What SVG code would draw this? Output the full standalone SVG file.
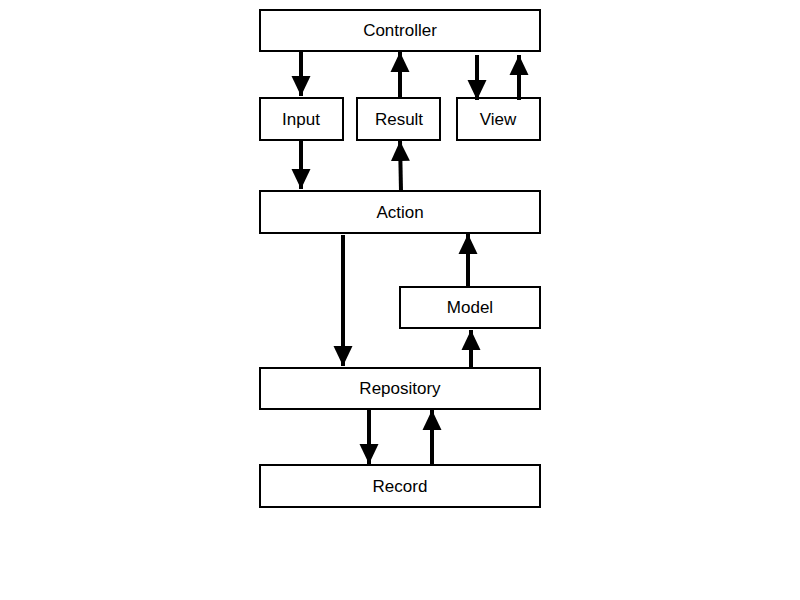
<svg xmlns="http://www.w3.org/2000/svg" width="800" height="600" viewBox="0 0 800 600">
<style>
.n rect{fill:#fff;stroke:#000;stroke-width:2}
.n text{font-family:"Liberation Sans",Arial,sans-serif;font-size:17px;text-anchor:middle;dominant-baseline:central;fill:#000}
.c line{stroke:#000;stroke-width:4;marker-end:url(#a)}
</style>
<defs><marker id="a" markerUnits="userSpaceOnUse" markerWidth="20" markerHeight="20" refX="20" refY="9.5" orient="auto" viewBox="0 0 20 19"><path d="M0,0L20,9.5L0,19z" fill="#000"/></marker></defs>
<rect width="800" height="600" fill="#fff"/>
<g id="controller" class="n"><rect x="260" y="10" width="280" height="41"/><text x="400" y="30">Controller</text></g>
<g id="input" class="n"><rect x="260" y="98" width="83" height="42"/><text x="301" y="119">Input</text></g>
<g id="result" class="n"><rect x="357" y="98" width="83" height="42"/><text x="399" y="119">Result</text></g>
<g id="view" class="n"><rect x="457" y="98" width="83" height="42"/><text x="498" y="119">View</text></g>
<g id="action" class="n"><rect x="260" y="191" width="280" height="42"/><text x="400" y="212">Action</text></g>
<g id="model" class="n"><rect x="400" y="287" width="140" height="41"/><text x="470" y="307">Model</text></g>
<g id="repository" class="n"><rect x="260" y="368" width="280" height="41"/><text x="400" y="388">Repository</text></g>
<g id="record" class="n"><rect x="260" y="465" width="280" height="42"/><text x="400" y="486">Record</text></g>
<g id="connectors" class="c">
<line x1="301" y1="52" x2="301" y2="96"/>
<line x1="400" y1="97" x2="400" y2="52"/>
<line x1="477" y1="55" x2="477" y2="100"/>
<line x1="519" y1="100" x2="519" y2="55"/>
<line x1="301" y1="141" x2="301" y2="189"/>
<line x1="401" y1="191" x2="400" y2="141"/>
<line x1="343" y1="235" x2="343" y2="366"/>
<line x1="468" y1="287" x2="468" y2="234"/>
<line x1="471" y1="368" x2="471" y2="330"/>
<line x1="369" y1="410" x2="369" y2="464"/>
<line x1="432" y1="464" x2="432" y2="410"/>
</g>
</svg>
